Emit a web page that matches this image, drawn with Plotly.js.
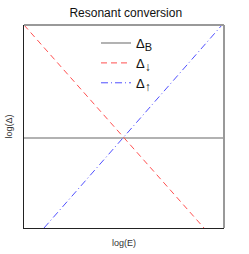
<!DOCTYPE html>
<html><head><meta charset="utf-8">
<script src="https://cdn.plot.ly/plotly-3.0.1.min.js"></script>
<style>html,body{margin:0;padding:0;background:#fff}#c{width:249px;height:254px}</style>
</head><body><div id="c"></div>
<script>
const seriesNames = ["Δ<sub><span style=\"font-size:11px\">B</span></sub>", "Δ<sub><span style=\"font-size:12px\">↓</span></sub>", "Δ<sub><span style=\"font-size:12px\">↑</span></sub>"];
const bX = [0, 10];
const bY = [4.43, 4.43];
const downX = [0, 9];
const downY = [10, 0];
const upX = [1, 9.9];
const upY = [0, 10];

const traces = [
  {x: bX, y: bY, name: seriesNames[0], mode: 'lines', line: {color: '#999999', width: 1.5, dash: 'solid'}},
  {x: downX, y: downY, name: seriesNames[1], mode: 'lines', line: {color: '#ff5050', width: 1, dash: '6px,4px'}},
  {x: upX, y: upY, name: seriesNames[2], mode: 'lines', line: {color: '#5050ff', width: 1, dash: '7px,3px,1px,3px'}}
];
const layout = {
  width: 249, height: 254,
  margin: {l: 24, r: 25, t: 25, b: 26},
  paper_bgcolor: '#fff', plot_bgcolor: '#fff',
  font: {family: 'Liberation Sans, Arial, sans-serif', color: '#222', size: 9},
  title: {text: 'Resonant conversion', font: {size: 12, color: '#111'}, x: 0.505, xanchor: 'center', y: 0.965, yanchor: 'top'},
  xaxis: {range: [0, 10], showgrid: false, zeroline: false, showticklabels: false, ticks: '',
          showline: true, linecolor: '#222', linewidth: 1,
          title: {text: 'log(E)', font: {size: 9, color: '#333'}, standoff: 11}},
  yaxis: {range: [0, 10], showgrid: false, zeroline: false, showticklabels: false, ticks: '',
          showline: true, linecolor: '#222', linewidth: 1,
          title: {text: 'log(Δ)', font: {size: 9, color: '#333'}, standoff: 8}},
  showlegend: true,
  legend: {x: 0.36, y: 0.985, xanchor: 'left', yanchor: 'top', bgcolor: 'rgba(0,0,0,0)',
           font: {size: 13, color: '#111'}, itemwidth: 30, tracegroupgap: 0},
  shapes: [
    {type: 'line', xref: 'paper', yref: 'paper', x0: 0, x1: 1, y0: 1, y1: 1, line: {color: '#999', width: 2}},
    {type: 'line', xref: 'paper', yref: 'paper', x0: 1, x1: 1, y0: 0, y1: 1, line: {color: '#999', width: 2}}
  ]
};
Plotly.newPlot('c', traces, layout, {staticPlot: true, displayModeBar: false});
</script></body></html>
